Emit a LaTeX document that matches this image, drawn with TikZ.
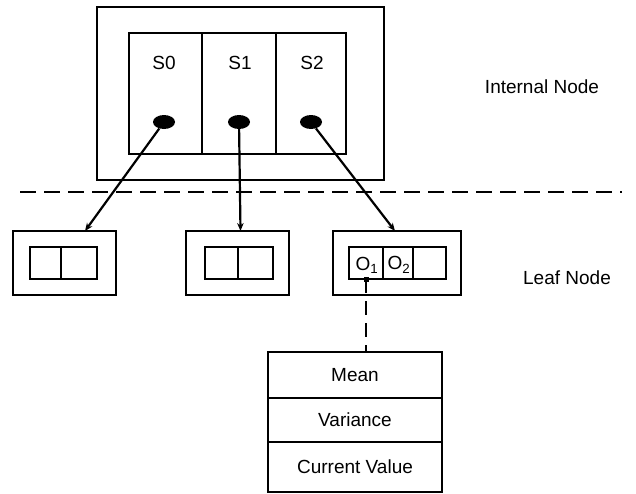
\documentclass[tikz,border=0pt]{standalone}
\usepackage{fontspec}
\setmainfont{Liberation Sans}
\usetikzlibrary{arrows.meta,calc,shapes.geometric}
\begin{document}
\begin{tikzpicture}[x=1pt,y=-1pt,
  box/.style={draw,line width=2.3pt,rectangle,inner sep=0pt,outer sep=0pt},
  lbl/.style={font=\fontsize{19}{22}\selectfont,inner sep=0pt},
  dot/.style={fill=black,ellipse,minimum width=22pt,minimum height=14pt,inner sep=0pt},
  arr/.style={line width=2.2pt,-{Stealth[length=8pt,width=6.5pt]}},
  sep/.style={line width=2.4pt,dash pattern=on 16pt off 8pt}]
\useasboundingbox (0,0) rectangle (636,493);
% internal node
\node[box,minimum width=287pt,minimum height=173pt] (inode) at (240.5,93.5) {};
\node[box,minimum width=73pt,minimum height=121pt] (c0) at (165.5,93.5) {};
\node[box,minimum width=74pt,minimum height=121pt] (c1) at (239,93.5) {};
\node[box,minimum width=70pt,minimum height=121pt] (c2) at (311,93.5) {};
\node[lbl] (s0) at (164,63) {S0};
\node[lbl] (s1) at (240,63) {S1};
\node[lbl] (s2) at (312,63) {S2};
\node[dot] (d0) at (164,122) {};
\node[dot] (d1) at (239,122) {};
\node[dot] (d2) at (311,122) {};
\node[lbl] (itxt) at (542,87) {Internal Node};
% separator
\coordinate (sl) at (20,192);
\coordinate (sr) at (622,192);
\draw[sep] (sl) -- (sr);
% leaf nodes
\node[box,minimum width=103pt,minimum height=64pt] (leaf1) at (64.5,263) {};
\node[box,minimum width=31pt,minimum height=32pt] (l1a) at (45.5,263) {};
\node[box,minimum width=36pt,minimum height=32pt] (l1b) at (79,263) {};
\node[box,minimum width=103pt,minimum height=64pt] (leaf2) at (237.5,263) {};
\node[box,minimum width=33pt,minimum height=32pt] (l2a) at (221.5,263) {};
\node[box,minimum width=35pt,minimum height=32pt] (l2b) at (255.5,263) {};
\node[box,minimum width=128pt,minimum height=64pt] (leaf3) at (397,263) {};
\node[box,minimum width=34pt,minimum height=32pt] (o1) at (366,263) {};
\node[box,minimum width=30pt,minimum height=32pt] (o2) at (398,263) {};
\node[box,minimum width=33pt,minimum height=32pt] (o3) at (429.5,263) {};
\node[lbl] (o1t) at (367,265) {O\textsubscript{1}};
\node[lbl] (o2t) at (399,265) {O\textsubscript{2}};
\node[lbl] (ltxt) at (567,278) {Leaf Node};
% table
\node[box,minimum width=174pt,minimum height=46pt] (mean) at (355,375) {};
\node[box,minimum width=174pt,minimum height=44pt] (var) at (355,420) {};
\node[box,minimum width=174pt,minimum height=50pt] (cur) at (355,467) {};
\node[lbl] at (mean) {Mean};
\node[lbl] at (var) {Variance};
\node[lbl] at (cur) {Current Value};
% connectors
\draw[arr] (d0) -- ($(leaf1.north)+(20.5,0)$);
\draw[arr] (d1) -- ($(leaf2.north)+(3,0)$);
\draw[arr] (d2) -- ($(leaf3.north)+(-2,0)$);
\fill ($(o1.south)+(-2.5,-2.5)$) rectangle ($(o1.south)+(2.5,2.5)$);
\draw[line width=2.2pt,dash pattern=on 14pt off 8pt] (o1.south) -- (o1.south |- mean.north);
\end{tikzpicture}
\end{document}
